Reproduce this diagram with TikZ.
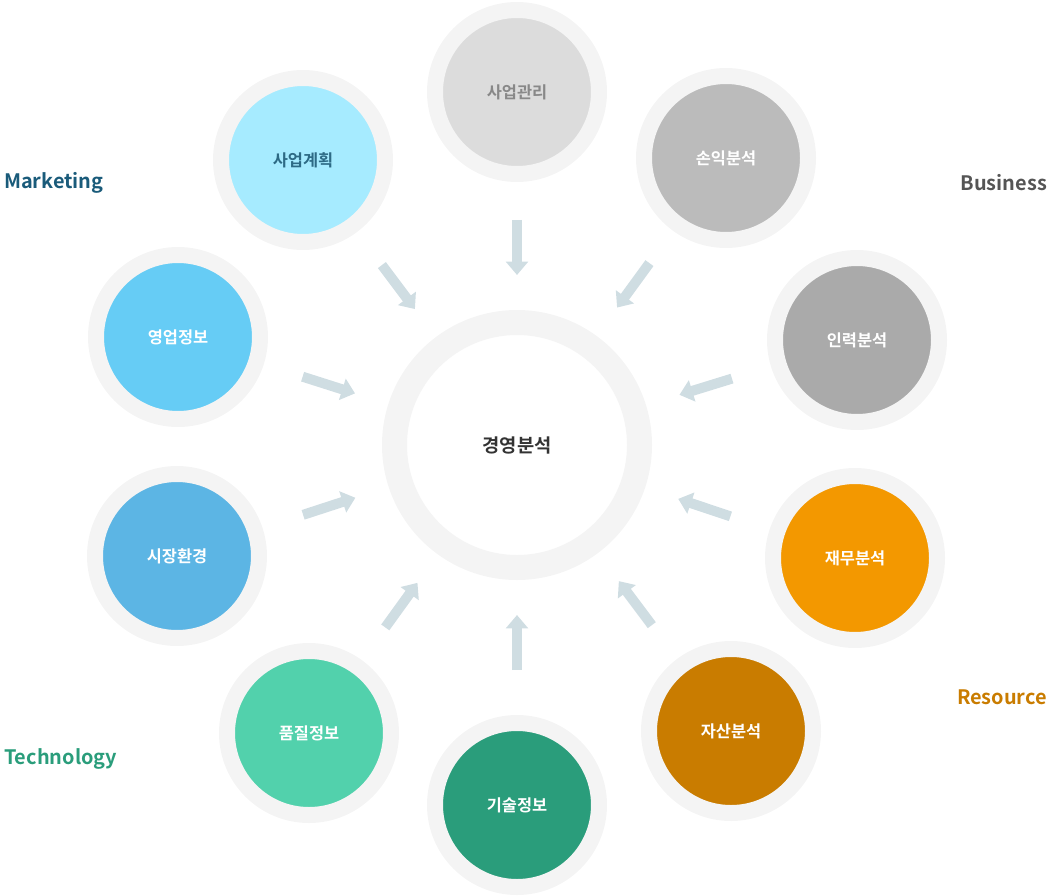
\documentclass[tikz,border=0pt]{standalone}
\usepackage{fontspec}
\setmainfont{Noto Sans CJK KR}[BoldFont={* Bold}]
\usetikzlibrary{calc,arrows.meta}
\definecolor{ringgray}{HTML}{F4F4F4}
\definecolor{arrowblue}{HTML}{CFDDE2}
\definecolor{cA}{HTML}{DCDCDC}
\definecolor{cB}{HTML}{BBBBBB}
\definecolor{cC}{HTML}{AAAAAA}
\definecolor{cD}{HTML}{F39800}
\definecolor{cE}{HTML}{C97C00}
\definecolor{cF}{HTML}{2A9D7B}
\definecolor{cG}{HTML}{52D1AC}
\definecolor{cH}{HTML}{5CB5E4}
\definecolor{cI}{HTML}{66CCF5}
\definecolor{cJ}{HTML}{A6EBFF}
\definecolor{tA}{HTML}{888888}
\definecolor{tJ}{HTML}{2D6A85}
\definecolor{mkt}{HTML}{1A5B7A}
\definecolor{bus}{HTML}{555555}
\begin{document}
\begin{tikzpicture}[x=0.03cm,y=-0.03cm,
    sat/.style={circle,draw=ringgray,line width=0.48cm,minimum size=4.92cm,
      inner sep=0pt,font=\fontsize{14}{16}\selectfont\bfseries},
    hub/.style={circle,draw=ringgray,line width=0.75cm,minimum size=7.35cm,
      fill=white,font=\fontsize{16}{18}\selectfont\bfseries,text=black!80},
    arr/.style={draw=arrowblue,line width=0.3cm,
      -{Triangle[width=0.65cm,length=0.4cm]}},
    grp/.style={font=\fontsize{17}{20}\selectfont\bfseries}]
  \useasboundingbox (0,0) rectangle (1051,896);
  \node[hub] (c) at (517,445) {경영분석};
  \foreach \name/\x/\y/\col/\txt/\lab in {
      a/517/92/cA/tA/사업관리, b/726/158/cB/white/손익분석,
      c3/857/340/cC/white/인력분석, d/855/558/cD/white/재무분석,
      e/731/731/cE/white/자산분석, f/517/805/cF/white/기술정보,
      g/309/733/cG/white/품질정보, h/177/556/cH/white/시장환경,
      i/178/337/cI/white/영업정보, j/303/160/cJ/tJ/사업계획} {
    \node[sat,fill=\col,text=\txt] (\name) at (\x,\y) {\lab};
    \coordinate (\name s) at ($(c)!6.75cm!(\name)$);
    \coordinate (\name t) at ($(c)!5.1cm!(\name)$);
    \draw[arr] (\name s) -- (\name t);
  }
  % group labels
  \node[grp,text=mkt,anchor=west] (mk) at (0,183) {Marketing};
  \node[grp,text=bus,anchor=east] (bu) at (1051,183) {Business};
  \node[grp,text=cE,anchor=east] (re) at (1051,697) {Resource};
  \node[grp,text=cF,anchor=west] (te) at (0,759) {Technology};
\end{tikzpicture}
\end{document}
